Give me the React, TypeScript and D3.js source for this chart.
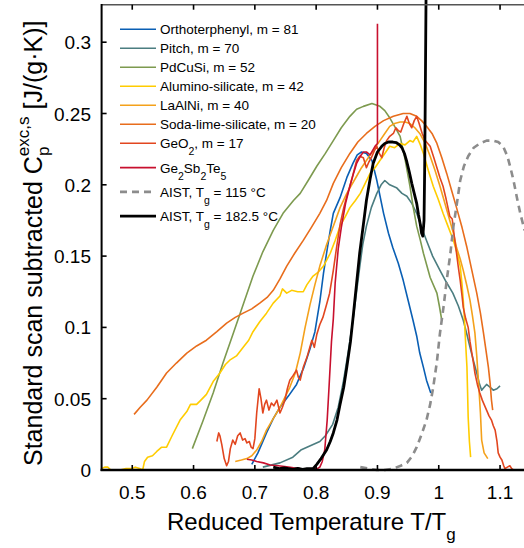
import React from "react";
import * as d3 from "d3";

type P = [number, number];

const xTicks = [0.5, 0.6, 0.7, 0.8, 0.9, 1, 1.1];
const xTickLabels = ["0.5", "0.6", "0.7", "0.8", "0.9", "1", "1.1"];
const yTicks = [0, 0.05, 0.1, 0.15, 0.2, 0.25, 0.3];
const yTickLabels = ["0", "0.05", "0.1", "0.15", "0.2", "0.25", "0.3"];

const orthoterphenyl: P[] = [
  [0.695, 0.004], [0.705, 0.012], [0.719, 0.026], [0.73, 0.036], [0.741, 0.044], [0.755, 0.052],
  [0.768, 0.06], [0.78, 0.072], [0.79, 0.085], [0.798, 0.097], [0.806, 0.118], [0.812, 0.138],
  [0.817, 0.152], [0.823, 0.168], [0.828, 0.18], [0.839, 0.191], [0.85, 0.205], [0.86, 0.215],
  [0.867, 0.221], [0.874, 0.223], [0.882, 0.222], [0.891, 0.217], [0.899, 0.203], [0.91, 0.18],
  [0.918, 0.166], [0.925, 0.156], [0.934, 0.145], [0.942, 0.133], [0.95, 0.119], [0.958, 0.105],
  [0.964, 0.094], [0.969, 0.082], [0.975, 0.072], [0.98, 0.063], [0.987, 0.054],
];

const pitch: P[] = [
  [0.713, 0.002], [0.741, 0.005], [0.762, 0.009], [0.775, 0.014], [0.785, 0.016], [0.806, 0.02],
  [0.815, 0.024], [0.827, 0.032], [0.836, 0.044], [0.844, 0.061], [0.852, 0.082], [0.86, 0.105],
  [0.866, 0.125], [0.871, 0.142], [0.876, 0.158], [0.882, 0.171], [0.89, 0.184], [0.899, 0.194],
  [0.906, 0.2], [0.912, 0.203], [0.92, 0.2], [0.931, 0.198], [0.94, 0.194], [0.948, 0.192],
  [0.956, 0.187], [0.964, 0.18], [0.972, 0.17], [0.98, 0.161], [0.99, 0.15], [1.002, 0.14],
  [1.012, 0.132], [1.023, 0.124], [1.032, 0.115], [1.04, 0.105], [1.046, 0.095], [1.051, 0.086],
  [1.057, 0.076], [1.062, 0.068], [1.066, 0.061], [1.07, 0.056], [1.074, 0.058], [1.078, 0.06],
  [1.084, 0.058], [1.089, 0.056], [1.095, 0.057], [1.1, 0.059],
];

const pdcusi: P[] = [
  [0.598, 0.015], [0.615, 0.034], [0.632, 0.054], [0.648, 0.075], [0.665, 0.096], [0.681, 0.116],
  [0.697, 0.136], [0.713, 0.153], [0.73, 0.168], [0.746, 0.18], [0.763, 0.189], [0.774, 0.194],
  [0.787, 0.203], [0.801, 0.213], [0.815, 0.222], [0.828, 0.231], [0.841, 0.24], [0.855, 0.248],
  [0.866, 0.253], [0.877, 0.255], [0.891, 0.257], [0.904, 0.255], [0.912, 0.252], [0.92, 0.247],
  [0.928, 0.241], [0.937, 0.234], [0.945, 0.218], [0.953, 0.199], [0.958, 0.185], [0.964, 0.171],
  [0.97, 0.161], [0.975, 0.152], [0.986, 0.135], [0.997, 0.124], [1.001, 0.115], [1.005, 0.105],
];

const aluminoSilicate: P[] = [
  [0.45, 0.001], [0.455, 0.002], [0.46, 0.002], [0.465, 0.0], [0.48, 0.0], [0.49, 0.001],
  [0.5, 0.001], [0.505, 0.002], [0.512, 0.001], [0.517, 0.0], [0.52, 0.006], [0.525, 0.009],
  [0.533, 0.01], [0.54, 0.013], [0.548, 0.016], [0.556, 0.016], [0.565, 0.024], [0.578, 0.035],
  [0.589, 0.041], [0.595, 0.046], [0.605, 0.046], [0.612, 0.049], [0.621, 0.053], [0.632, 0.062],
  [0.643, 0.068], [0.652, 0.074], [0.659, 0.077], [0.67, 0.08], [0.681, 0.086], [0.69, 0.091],
  [0.697, 0.097], [0.708, 0.104], [0.719, 0.11], [0.73, 0.117], [0.741, 0.122], [0.745, 0.127],
  [0.752, 0.124], [0.76, 0.126], [0.77, 0.125], [0.779, 0.125], [0.785, 0.13], [0.795, 0.136],
  [0.804, 0.139], [0.812, 0.143], [0.823, 0.152], [0.831, 0.161], [0.839, 0.171], [0.848, 0.178],
  [0.855, 0.184], [0.864, 0.189], [0.872, 0.194], [0.88, 0.201], [0.888, 0.208], [0.896, 0.212],
  [0.904, 0.217], [0.912, 0.222], [0.92, 0.227], [0.928, 0.226], [0.937, 0.229], [0.945, 0.228],
  [0.953, 0.231], [0.958, 0.23], [0.964, 0.234], [0.97, 0.228], [0.975, 0.222], [0.983, 0.21],
  [0.991, 0.199], [0.999, 0.19], [1.007, 0.18], [1.015, 0.171], [1.024, 0.161], [1.03, 0.152],
  [1.035, 0.143], [1.038, 0.13], [1.04, 0.119], [1.042, 0.105], [1.043, 0.096], [1.045, 0.08],
  [1.046, 0.072], [1.047, 0.055], [1.048, 0.037], [1.05, 0.02], [1.052, 0.009],
];

const laAlNi: P[] = [
  [0.668, 0.006], [0.678, 0.007], [0.687, 0.008], [0.695, 0.01], [0.703, 0.014], [0.711, 0.02],
  [0.719, 0.028], [0.73, 0.036], [0.741, 0.044], [0.749, 0.051], [0.757, 0.058], [0.766, 0.068],
  [0.774, 0.082], [0.782, 0.1], [0.79, 0.116], [0.798, 0.13], [0.806, 0.143], [0.817, 0.158],
  [0.828, 0.171], [0.839, 0.184], [0.85, 0.194], [0.858, 0.2], [0.866, 0.206], [0.874, 0.212],
  [0.882, 0.217], [0.893, 0.224], [0.904, 0.231], [0.912, 0.236], [0.92, 0.241], [0.928, 0.243],
  [0.937, 0.244], [0.945, 0.244], [0.953, 0.243], [0.961, 0.24], [0.969, 0.236], [0.978, 0.229],
  [0.986, 0.22], [0.994, 0.21], [1.002, 0.199], [1.01, 0.187], [1.018, 0.175], [1.024, 0.166],
  [1.029, 0.156], [1.035, 0.148], [1.04, 0.14], [1.046, 0.129], [1.051, 0.119], [1.055, 0.108],
  [1.059, 0.096], [1.062, 0.08], [1.065, 0.061], [1.068, 0.04], [1.07, 0.021], [1.074, 0.012],
  [1.08, 0.008],
];

const sodaLime: P[] = [
  [0.503, 0.039], [0.513, 0.044], [0.524, 0.049], [0.54, 0.058], [0.556, 0.068], [0.572, 0.075],
  [0.589, 0.082], [0.605, 0.087], [0.621, 0.091], [0.638, 0.097], [0.654, 0.103], [0.668, 0.107],
  [0.681, 0.11], [0.695, 0.113], [0.708, 0.117], [0.72, 0.121], [0.73, 0.126], [0.741, 0.134],
  [0.752, 0.143], [0.765, 0.152], [0.779, 0.161], [0.792, 0.17], [0.806, 0.18], [0.817, 0.189],
  [0.828, 0.201], [0.841, 0.212], [0.855, 0.222], [0.868, 0.23], [0.882, 0.236], [0.896, 0.241],
  [0.91, 0.245], [0.926, 0.248], [0.942, 0.25], [0.953, 0.25], [0.964, 0.248], [0.972, 0.245],
  [0.98, 0.241], [0.989, 0.236], [0.997, 0.229], [1.005, 0.219], [1.013, 0.208], [1.021, 0.196],
  [1.029, 0.184], [1.038, 0.17], [1.046, 0.156], [1.054, 0.14], [1.062, 0.124], [1.068, 0.11],
  [1.073, 0.096], [1.077, 0.084], [1.081, 0.072], [1.084, 0.06], [1.086, 0.049], [1.088, 0.042],
];

const geO2: P[] = [
  [0.638, 0.02], [0.641, 0.026], [0.643, 0.024], [0.646, 0.018], [0.65, 0.008], [0.654, 0.003],
  [0.657, 0.006], [0.66, 0.015], [0.664, 0.021], [0.668, 0.018], [0.672, 0.024], [0.676, 0.026],
  [0.68, 0.021], [0.684, 0.022], [0.687, 0.019], [0.691, 0.02], [0.694, 0.016], [0.697, 0.015],
  [0.7, 0.022], [0.703, 0.04], [0.707, 0.057], [0.71, 0.05], [0.713, 0.04], [0.716, 0.046],
  [0.719, 0.049], [0.723, 0.042], [0.727, 0.047], [0.731, 0.045], [0.736, 0.049], [0.741, 0.04],
  [0.745, 0.044], [0.749, 0.049], [0.753, 0.057], [0.757, 0.063], [0.762, 0.066], [0.768, 0.07],
  [0.771, 0.065], [0.774, 0.063], [0.779, 0.072], [0.785, 0.079], [0.789, 0.085], [0.793, 0.091],
  [0.797, 0.086], [0.801, 0.095], [0.806, 0.102], [0.811, 0.107], [0.817, 0.116], [0.822, 0.124],
  [0.828, 0.14], [0.833, 0.155], [0.839, 0.172], [0.845, 0.184], [0.85, 0.192], [0.855, 0.199],
  [0.86, 0.207], [0.866, 0.217], [0.871, 0.22], [0.877, 0.219], [0.882, 0.212], [0.886, 0.216],
  [0.89, 0.219], [0.895, 0.224], [0.899, 0.227], [0.903, 0.222], [0.907, 0.219], [0.911, 0.226],
  [0.915, 0.231], [0.92, 0.234], [0.926, 0.236], [0.93, 0.24], [0.934, 0.238], [0.938, 0.237],
  [0.943, 0.243], [0.948, 0.248], [0.952, 0.243], [0.956, 0.24], [0.96, 0.245], [0.964, 0.248],
  [0.968, 0.243], [0.973, 0.236], [0.978, 0.231], [0.982, 0.229], [0.986, 0.227], [0.992, 0.219],
  [0.997, 0.212], [1.002, 0.205], [1.007, 0.199], [1.012, 0.19], [1.018, 0.178], [1.022, 0.176],
  [1.025, 0.165], [1.029, 0.152], [1.032, 0.142], [1.035, 0.133], [1.038, 0.122], [1.04, 0.114],
  [1.044, 0.106], [1.048, 0.1], [1.051, 0.09], [1.054, 0.082], [1.057, 0.074], [1.059, 0.068],
  [1.063, 0.06], [1.067, 0.054], [1.071, 0.049], [1.075, 0.045], [1.078, 0.042], [1.082, 0.038],
  [1.086, 0.035], [1.089, 0.031], [1.092, 0.028], [1.095, 0.02], [1.097, 0.012], [1.1, 0.009],
  [1.103, 0.007], [1.106, 0.003], [1.108, 0.001], [1.112, 0.002], [1.116, 0.003], [1.119, 0.001],
  [1.122, 0.0],
];

const ge2sb2te5: P[] = [
  [0.687, 0.0075], [0.695, 0.007], [0.703, 0.006], [0.714, 0.005], [0.725, 0.0035], [0.738, 0.003],
  [0.752, 0.0023], [0.763, 0.0015], [0.774, 0.001], [0.785, 0.0008], [0.795, 0.0006], [0.802, 0.001],
  [0.806, 0.002], [0.81, 0.006], [0.814, 0.014], [0.818, 0.035], [0.821, 0.058], [0.825, 0.09],
  [0.828, 0.106], [0.831, 0.131], [0.836, 0.155], [0.841, 0.17], [0.848, 0.187], [0.855, 0.199],
  [0.861, 0.208], [0.866, 0.215], [0.872, 0.22], [0.877, 0.223], [0.882, 0.223], [0.888, 0.221],
  [0.892, 0.224], [0.896, 0.227], [0.9, 0.229], [0.9, 0.313],
];

const aist115: P[] = [
  [0.872, 0.002], [0.885, 0.001], [0.899, 0.0], [0.912, 0.0], [0.926, 0.001], [0.938, 0.003],
  [0.948, 0.005], [0.957, 0.01], [0.964, 0.016], [0.972, 0.025], [0.98, 0.035], [0.986, 0.046],
  [0.991, 0.058], [0.997, 0.076], [1.002, 0.096], [1.008, 0.115], [1.013, 0.133], [1.019, 0.152],
  [1.024, 0.171], [1.03, 0.188], [1.035, 0.203], [1.041, 0.213], [1.048, 0.22], [1.057, 0.226],
  [1.067, 0.229], [1.078, 0.231], [1.089, 0.231], [1.097, 0.23], [1.105, 0.227], [1.112, 0.22],
  [1.117, 0.212], [1.122, 0.203], [1.128, 0.19], [1.133, 0.18], [1.14, 0.168],
];

const aist1825: P[] = [
  [0.73, 0.002], [0.74, 0.001], [0.748, 0.0015], [0.755, 0.001], [0.762, 0.0005], [0.77, 0.0012],
  [0.778, 0.0005], [0.785, 0.001], [0.795, 0.001], [0.801, 0.004], [0.808, 0.008], [0.817, 0.014],
  [0.823, 0.02], [0.828, 0.026], [0.834, 0.035], [0.839, 0.046], [0.845, 0.058], [0.85, 0.072],
  [0.856, 0.09], [0.861, 0.11], [0.866, 0.131], [0.871, 0.152], [0.877, 0.172], [0.882, 0.189],
  [0.888, 0.204], [0.893, 0.215], [0.9, 0.223], [0.907, 0.227], [0.912, 0.229], [0.918, 0.23],
  [0.925, 0.23], [0.931, 0.2295], [0.936, 0.228], [0.94, 0.226], [0.944, 0.222], [0.948, 0.216],
  [0.952, 0.209], [0.956, 0.201], [0.96, 0.194], [0.964, 0.187], [0.967, 0.179], [0.97, 0.172],
  [0.972, 0.166], [0.974, 0.164], [0.976, 0.175], [0.977, 0.21], [0.978, 0.26], [0.9795, 0.345],
];

const seriesNames = [
  "Orthoterphenyl, m = 81",
  "Pitch, m = 70",
  "PdCuSi, m = 52",
  "Alumino-silicate, m = 42",
  "LaAlNi, m = 40",
  "Soda-lime-silicate, m = 20",
  "GeO_2, m = 17",
  "Ge_2Sb_2Te_5",
  "AIST, T_g = 115 °C",
  "AIST, T_g = 182.5 °C",
];
const seriesData = [
  orthoterphenyl, pitch, pdcusi, aluminoSilicate, laAlNi, sodaLime, geO2, ge2sb2te5, aist115, aist1825,
];
const seriesColors = [
  "#0a5fb4", "#4b7d80", "#7d9a4f", "#ffcc00", "#f4a11b", "#e86d1c", "#e2461f", "#c8102e", "#8c8c8c", "#000000",
];

const FONT = "'Liberation Sans', Arial, Helvetica, sans-serif";

function parseSub(s: string) {
  const parts: { t: string; sub: boolean }[] = [];
  const re = /_(.)/g;
  let last = 0;
  let m: RegExpExecArray | null;
  while ((m = re.exec(s))) {
    if (m.index > last) parts.push({ t: s.slice(last, m.index), sub: false });
    parts.push({ t: m[1], sub: true });
    last = m.index + 2;
  }
  if (last < s.length) parts.push({ t: s.slice(last), sub: false });
  return parts;
}

export default function App() {
  const W = 524;
  const H = 548;
  const left = 101.6;
  const bottom = 470;
  const top = 4.7;
  const x = d3.scaleLinear().domain([0.45, 1.14]).range([left, left + 0.69 * 613]);
  const y = d3.scaleLinear().domain([0, (bottom - top) / 1426]).range([bottom, top]);
  const line = d3
    .line<P>()
    .x((d) => x(d[0]))
    .y((d) => y(d[1]));

  const styles = seriesNames.map((_, i) => {
    if (i === 9) return { w: 2.8, dash: undefined as string | undefined };
    if (i === 8) return { w: 2.6, dash: "7,5" };
    return { w: 1.6, dash: undefined as string | undefined };
  });

  const legendY = seriesNames.map((_, i) => 29.3 + Math.min(i, 6) * 19 + Math.max(0, i - 6) * 24.3);

  return (
    <svg width={W} height={H} style={{ display: "block", fontFamily: FONT }}>
      <style>{`body{margin:0}`}</style>
      <rect x={0} y={0} width={W} height={H} fill="#fff" />
      {seriesData.map((d, i) => (
        <path
          key={i}
          d={line(d) || ""}
          fill="none"
          stroke={seriesColors[i]}
          strokeWidth={styles[i].w}
          strokeDasharray={styles[i].dash}
          strokeLinejoin="round"
        />
      ))}
      {/* axes */}
      <line x1={left} x2={W} y1={top} y2={top} stroke="#555" strokeWidth={1.6} />
      <line x1={left} x2={left} y1={top - 0.8} y2={bottom + 1} stroke="#000" strokeWidth={2} />
      <line x1={left - 1} x2={W} y1={bottom} y2={bottom} stroke="#000" strokeWidth={2.4} />
      {xTicks.map((t, i) => (
        <g key={"xt" + i}>
          <line x1={x(t)} x2={x(t)} y1={bottom} y2={bottom - 5} stroke="#000" strokeWidth={1.6} />
          <line x1={x(t)} x2={x(t)} y1={top} y2={top + 5} stroke="#000" strokeWidth={1.6} />
          <text x={x(t)} y={499} textAnchor="middle" fontSize={19} fill="#000">
            {xTickLabels[i]}
          </text>
        </g>
      ))}
      {yTicks.map((t, i) => (
        <g key={"yt" + i}>
          <line x1={left} x2={left + 5} y1={y(t)} y2={y(t)} stroke="#000" strokeWidth={1.6} />
          <text x={91} y={y(t) + 7} textAnchor="end" fontSize={19} fill="#000">
            {yTickLabels[i]}
          </text>
        </g>
      ))}
      {/* x label */}
      <text x={167} y={530} fontSize={24} fill="#000">
        Reduced Temperature T/T
        <tspan fontSize={17} dy={10}>g</tspan>
      </text>
      {/* y label */}
      <text transform="translate(42,466) rotate(-90)" fontSize={25} fill="#000">
        Standard scan subtracted C
        <tspan fontSize={17} dy={7}>p</tspan>
        <tspan fontSize={17} dx={-9.5} dy={-20}>exc,s</tspan>
        <tspan dy={13}> [J/(g·K)]</tspan>
      </text>
      {/* legend */}
      {seriesNames.map((n, i) => (
        <g key={"lg" + i}>
          <line
            x1={120}
            x2={156}
            y1={legendY[i]}
            y2={legendY[i]}
            stroke={seriesColors[i]}
            strokeWidth={styles[i].w}
            strokeDasharray={styles[i].dash}
          />
          <text x={160} y={legendY[i] + 5} fontSize={13.5} fill="#000">
            {parseSub(n).map((p, k, arr) => {
              const prevSub = k > 0 && arr[k - 1].sub;
              const dy = p.sub ? (prevSub ? 0 : 7) : prevSub ? -7 : 0;
              return (
                <tspan key={k} fontSize={p.sub ? 10.5 : 13.5} dy={dy}>
                  {p.t}
                </tspan>
              );
            })}
          </text>
        </g>
      ))}
    </svg>
  );
}
